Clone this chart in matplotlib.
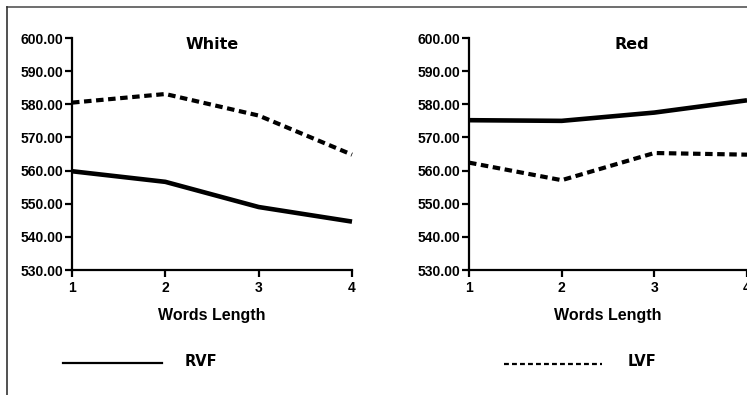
import numpy as np
import matplotlib
matplotlib.use('Agg')
import matplotlib.pyplot as plt
from matplotlib.lines import Line2D
from matplotlib.ticker import FormatStrFormatter
from matplotlib import font_manager

# Veriler
word_length = [1, 2, 3, 4]
white_rvf = [559.8, 556.6, 549.0, 544.6]
white_lvf = [580.5, 583.1, 576.6, 564.8]
red_rvf = [575.2, 575.0, 577.5, 581.2]
red_lvf = [562.4, 557.1, 565.3, 564.8]
y_ticks = [530, 540, 550, 560, 570, 580, 590, 600]

W, H = 747, 395
fig = plt.figure(figsize=(W / 100, H / 100), dpi=100)

tick_font = dict(family='Liberation Sans', weight='bold', size=10)
label_font = dict(family='Liberation Sans', weight='bold', size=11.5)
title_font = dict(family='DejaVu Sans', weight='bold', size=11.5)


def setup(ax):
    ax.set_xlim(1, 4)
    ax.set_ylim(530, 600)
    ax.set_xticks(word_length)
    ax.set_yticks(y_ticks)
    ax.yaxis.set_major_formatter(FormatStrFormatter('%.2f'))
    for s in ['top', 'right']:
        ax.spines[s].set_visible(False)
    for s in ['left', 'bottom']:
        ax.spines[s].set_linewidth(1.6)
    ax.tick_params(direction='out', length=5, width=1.6)
    ax.tick_params(axis='y', pad=1)
    ax.tick_params(axis='x', pad=3)
    for lab in ax.get_xticklabels() + ax.get_yticklabels():
        lab.set_fontproperties(font_manager.FontProperties(**tick_font))
    ax.set_xlabel('Words Length', fontdict=label_font, labelpad=9)
    ax.patch.set_alpha(0)


ax1 = fig.add_axes([72 / W, 1 - 270 / H, 280 / W, 232 / H])
ax1.plot(word_length, white_rvf, color='black', lw=3.3, solid_capstyle='butt', clip_on=False)
ax1.plot(word_length, white_lvf, color='black', lw=3.0, dashes=(1.8, 1.1), dash_capstyle='butt', clip_on=False)
setup(ax1)
ax1.text(0.5, 0.97, 'White', transform=ax1.transAxes, ha='center', va='center', fontdict=title_font)

ax2 = fig.add_axes([469 / W, 1 - 270 / H, 278 / W, 232 / H])
ax2.plot(word_length, red_rvf, color='black', lw=3.3, solid_capstyle='butt', clip_on=False)
ax2.plot(word_length, red_lvf, color='black', lw=3.0, dashes=(1.8, 1.1), dash_capstyle='butt', clip_on=False)
setup(ax2)
ax2.text(0.585, 0.97, 'Red', transform=ax2.transAxes, ha='center', va='center', fontdict=title_font)

# Legend
fig.add_artist(Line2D([63 / W, 162 / W], [1 - 363 / H] * 2, color='black', lw=1.6))
fig.text(185 / W, 1 - 361 / H, 'RVF', ha='left', va='center', fontdict=dict(family='DejaVu Sans', weight='bold', size=10.5))
fig.add_artist(Line2D([504 / W, 602 / W], [1 - 364 / H] * 2, color='black', lw=1.6, dashes=(2.2, 1.4)))
fig.text(628 / W, 1 - 362 / H, 'LVF', ha='left', va='center', fontdict=dict(family='DejaVu Sans', weight='bold', size=10.5))

# Frame border
fig.add_artist(Line2D([7 / W, 1], [1 - 7 / H] * 2, color='#555555', lw=1.2))
fig.add_artist(Line2D([7 / W, 7 / W], [1 - 7 / H, 0], color='#333333', lw=1.2))

fig.savefig('out.png', dpi=100)
